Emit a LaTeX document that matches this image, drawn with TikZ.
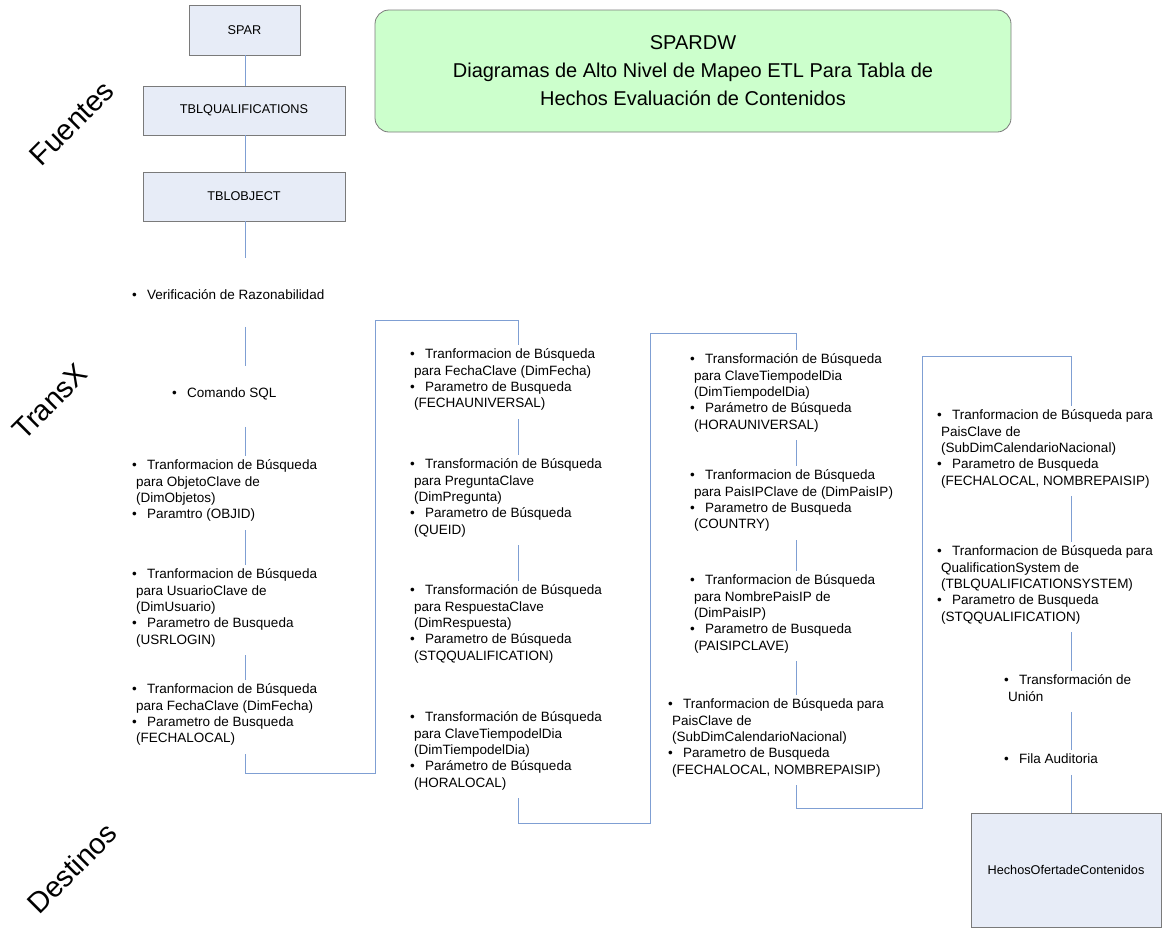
\documentclass[tikz,border=0pt]{standalone}
\usepackage{fontspec}
\setmainfont{Liberation Sans}
\usepackage{tikz}

\definecolor{linea}{HTML}{7F9FD3}
\definecolor{cajaazul}{HTML}{E7ECF7}
\definecolor{verdetit}{HTML}{CCFFCC}
\definecolor{borde}{HTML}{7A7A7A}

\newcommand{\letra}{\fontsize{13.5}{16.4}\selectfont}
\newcommand{\vineta}{\strut\makebox[15pt][l]{\textbullet}}
\newcommand{\sigue}{\strut\hspace*{4pt}}

\tikzset{
  tabla/.style={draw=borde, fill=cajaazul, line width=0.8pt, inner sep=0pt,
    font=\fontsize{12.7}{15}\selectfont},
  paso/.style={anchor=north west, inner sep=0pt, align=left, font=\letra},
  enlace/.style={draw=linea, line width=0.9pt, shorten <=6pt, shorten >=2pt},
  zona/.style={rotate=45, font=\fontsize{29}{30}\selectfont}
}

\begin{document}
\begin{tikzpicture}[x=1pt,y=-1pt]
  \useasboundingbox (0,0) rectangle (1162,938);
  \coordinate (c1) at (245,0);
  \coordinate (c2) at (518,0);
  \coordinate (c3) at (796,0);
  \coordinate (c4) at (1071,0);

  % fuentes
  \node[tabla, minimum width=111pt, minimum height=50pt] (spar) at (244.5,30) {SPAR};
  \node[tabla, minimum width=202pt, minimum height=49pt] (qual) at (244,110.5) {TBLQUALIFICATIONS};
  \node[tabla, minimum width=202pt, minimum height=49pt] (obj) at (244,196.5) {TBLOBJECT};

  \node[draw=borde, fill=verdetit, line width=0.8pt, rounded corners=14pt,
    minimum width=636pt, minimum height=122pt, align=center,
    font=\fontsize{20}{28}\selectfont] (titulo) at (693,71)
    {SPARDW\\Diagramas de Alto Nivel de Mapeo ETL Para Tabla de\\Hechos Evaluación de Contenidos};

  \node[zona] (fuentes) at (72,123) {Fuentes};
  \node[zona] (transx) at (50,402) {TransX};
  \node[zona] (destinos) at (72,868) {Destinos};

  % columna 1
  \node[paso] (v1) at (132,288) {\vineta Verificación de Razonabilidad};
  \node[paso] (v2) at (172,386) {\vineta Comando SQL};
  \node[paso] (t11) at (132,458) {\vineta Tranformacion de Búsqueda\\ \sigue para ObjetoClave de\\ \sigue (DimObjetos)\\ \vineta Paramtro (OBJID)};
  \node[paso] (t12) at (132,567) {\vineta Tranformacion de Búsqueda\\ \sigue para UsuarioClave de\\ \sigue (DimUsuario)\\ \vineta Parametro de Busqueda\\ \sigue (USRLOGIN)};
  \node[paso] (t13) at (132,682) {\vineta Tranformacion de Búsqueda\\ \sigue para FechaClave (DimFecha)\\ \vineta Parametro de Busqueda\\ \sigue (FECHALOCAL)};

  % columna 2
  \node[paso] (t21) at (410,347) {\vineta Tranformacion de Búsqueda\\ \sigue para FechaClave (DimFecha)\\ \vineta Parametro de Busqueda\\ \sigue (FECHAUNIVERSAL)};
  \node[paso] (t22) at (410,457) {\vineta Transformación de Búsqueda\\ \sigue para PreguntaClave\\ \sigue (DimPregunta)\\ \vineta Parametro de Búsqueda\\ \sigue (QUEID)};
  \node[paso] (t23) at (410,583) {\vineta Transformación de Búsqueda\\ \sigue para RespuestaClave\\ \sigue (DimRespuesta)\\ \vineta Parametro de Búsqueda\\ \sigue (STQQUALIFICATION)};
  \node[paso] (t24) at (410,710) {\vineta Transformación de Búsqueda\\ \sigue para ClaveTiempodelDia\\ \sigue (DimTiempodelDia)\\ \vineta Parámetro de Búsqueda\\ \sigue (HORALOCAL)};

  % columna 3
  \node[paso] (t31) at (690,352) {\vineta Transformación de Búsqueda\\ \sigue para ClaveTiempodelDia\\ \sigue (DimTiempodelDia)\\ \vineta Parámetro de Búsqueda\\ \sigue (HORAUNIVERSAL)};
  \node[paso] (t32) at (690,468) {\vineta Tranformacion de Búsqueda\\ \sigue para PaisIPClave de (DimPaisIP)\\ \vineta Parametro de Busqueda\\ \sigue (COUNTRY)};
  \node[paso] (t33) at (690,573) {\vineta Tranformacion de Búsqueda\\ \sigue para NombrePaisIP de\\ \sigue (DimPaisIP)\\ \vineta Parametro de Busqueda\\ \sigue (PAISIPCLAVE)};
  \node[paso] (t34) at (668,697) {\vineta Tranformacion de Búsqueda para\\ \sigue PaisClave de\\ \sigue (SubDimCalendarioNacional)\\ \vineta Parametro de Busqueda\\ \sigue (FECHALOCAL, NOMBREPAISIP)};

  % columna 4
  \node[paso] (t41) at (937,408) {\vineta Tranformacion de Búsqueda para\\ \sigue PaisClave de\\ \sigue (SubDimCalendarioNacional)\\ \vineta Parametro de Busqueda\\ \sigue (FECHALOCAL, NOMBREPAISIP)};
  \node[paso] (t42) at (937,544) {\vineta Tranformacion de Búsqueda para\\ \sigue QualificationSystem de\\ \sigue (TBLQUALIFICATIONSYSTEM)\\ \vineta Parametro de Busqueda\\ \sigue (STQQUALIFICATION)};
  \node[paso] (t43) at (1004,673) {\vineta Transformación de\\ \sigue Unión};
  \node[paso] (t44) at (1004,752) {\vineta Fila Auditoria};

  % destinos
  \node[tabla, minimum width=190pt, minimum height=114pt] (hechos) at (1066,870) {HechosOfertadeContenidos};

  % esquinas de los enlaces entre columnas
  \coordinate (r1) at (375,773);
  \coordinate (r2) at (518,320);
  \coordinate (r3) at (650,823);
  \coordinate (r4) at (796,333);
  \coordinate (r5) at (922,808);
  \coordinate (r6) at (1071,356);

  \draw[enlace, shorten <=0pt, shorten >=0pt] (spar.south -| c1) -- (qual.north -| c1);
  \draw[enlace, shorten <=0pt, shorten >=0pt] (qual.south -| c1) -- (obj.north -| c1);
  \draw[enlace, shorten <=0pt, shorten >=30pt] (obj.south -| c1) -- (v1.north -| c1);
  \draw[enlace, shorten <=22pt, shorten >=20pt] (v1.south -| c1) -- (v2.north -| c1);
  \draw[enlace, shorten <=24pt] (v2.south -| c1) -- (t11.north -| c1);
  \draw[enlace] (t11.south -| c1) -- (t12.north -| c1);
  \draw[enlace] (t12.south -| c1) -- (t13.north -| c1);
  \draw[enlace] (t13.south -| c1) |- (r1) |- (r2) -- (t21.north -| c2);
  \draw[enlace] (t21.south -| c2) -- (t22.north -| c2);
  \draw[enlace] (t22.south -| c2) -- (t23.north -| c2);
  \draw[enlace] (t24.south -| c2) |- (r3) |- (r4) -- (t31.north -| c3);
  \draw[enlace] (t31.south -| c3) -- (t32.north -| c3);
  \draw[enlace] (t32.south -| c3) -- (t33.north -| c3);
  \draw[enlace] (t33.south -| c3) -- (t34.north -| c3);
  \draw[enlace] (t34.south -| c3) |- (r5) |- (r6) -- (t41.north -| c4);
  \draw[enlace] (t41.south -| c4) -- (t42.north -| c4);
  \draw[enlace] (t42.south -| c4) -- (t43.north -| c4);
  \draw[enlace] (t43.south -| c4) -- (t44.north -| c4);
  \draw[enlace, shorten >=0pt] (t44.south -| c4) -- (hechos.north -| c4);
\end{tikzpicture}
\end{document}
